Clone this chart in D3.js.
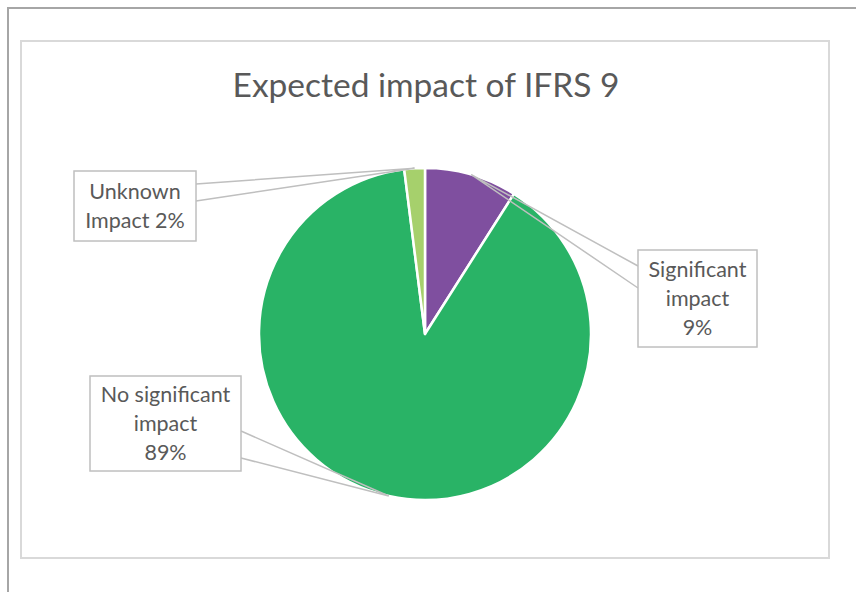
<!DOCTYPE html>
<html><head><meta charset="utf-8">
<script src="https://cdn.jsdelivr.net/npm/d3@7"></script>
<style>body{margin:0;background:#fff}svg{display:block}</style>
</head><body>
<svg id="c" width="856" height="592"></svg>
<script>
const categories = ["Significant impact", "No significant impact", "Unknown Impact"];
const values = [9, 89, 2];
const labelLines = [["Significant", "impact", "9%"], ["No significant", "impact", "89%"], ["Unknown", "Impact 2%"]];
const colors = ["#7f4f9f", "#29b366", "#a6d06c"];

// layout
const boxes = [
  {x:638, y:250, w:119, h:97, side:"left", a:16, b:38},
  {x:90, y:376, w:151, h:95, side:"right", a:55, b:82},
  {x:74, y:171, w:122, h:70, side:"right", a:13, b:30}
];
const cx = 425, cy = 334, R = 166;
const svg = d3.select("#c");
const font = "Lato, 'Open Sans', sans-serif";

// outer frame (only top/left visible)
svg.append("rect").attr("x",8).attr("y",8).attr("width",860).attr("height",600)
  .attr("fill","none").attr("stroke","#a6a6a6").attr("stroke-width",2);
// chart area
svg.append("rect").attr("x",21).attr("y",41).attr("width",808).attr("height",517)
  .attr("fill","#fff").attr("stroke","#d9d9d9").attr("stroke-width",2);

svg.append("text").attr("x",426).attr("y",97).attr("text-anchor","middle")
  .attr("font-family",font).attr("font-size",33.5).attr("fill","#595959")
  .text("Expected impact of IFRS 9");

const pie = d3.pie().sort(null).value(d=>d)(values);
const arc = d3.arc().innerRadius(0).outerRadius(R);
const g = svg.append("g").attr("transform",`translate(${cx},${cy})`);
g.selectAll("path").data(pie).join("path").attr("d",arc)
  .attr("fill",(d,i)=>colors[i]).attr("stroke","#fff").attr("stroke-width",2.5).attr("stroke-linejoin","round");

// callouts
pie.forEach((d,i)=>{
  const m = (d.startAngle+d.endAngle)/2;
  const tx = cx + R*Math.sin(m), ty = cy - R*Math.cos(m);
  const b = boxes[i];
  const ex = b.side==="left" ? b.x : b.x+b.w;
  svg.append("path").attr("d",`M${ex},${b.y+b.a}L${tx},${ty}L${ex},${b.y+b.b}`)
    .attr("fill","none").attr("stroke","#bfbfbf").attr("stroke-width",1.5);
  svg.append("rect").attr("x",b.x).attr("y",b.y).attr("width",b.w).attr("height",b.h)
    .attr("fill","#fff").attr("stroke","#bfbfbf").attr("stroke-width",1.5);
  const lines = labelLines[i];
  const lh = 29;
  const y0 = b.y + b.h/2 - (lines.length-1)*lh/2 + 7.5;
  const t = svg.append("text").attr("text-anchor","middle").attr("font-family",font)
    .attr("font-size",21.5).attr("fill","#595959");
  lines.forEach((s,j)=>t.append("tspan").attr("x",b.x+b.w/2).attr("y",y0+j*lh).text(s));
});
</script>
</body></html>
